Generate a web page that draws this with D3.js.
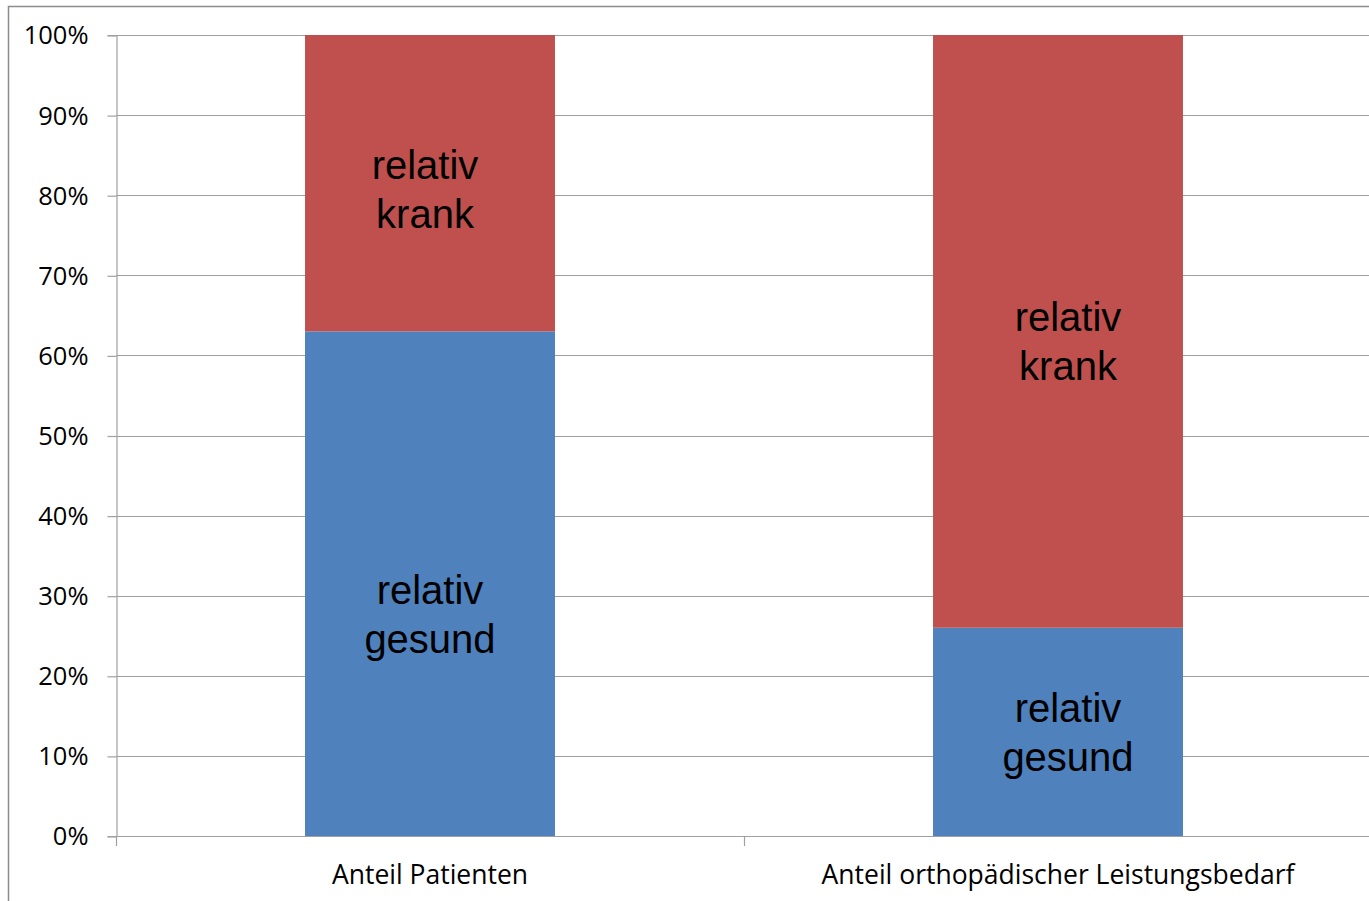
<!DOCTYPE html>
<html>
<head>
<meta charset="utf-8">
<script src="https://cdn.jsdelivr.net/npm/d3@7"></script>
<style>
  html, body { margin: 0; padding: 0; background: #fff; }
  svg { display: block; }
</style>
</head>
<body>
<svg id="chart" width="1369" height="901"></svg>
<script>
// Category names and stacked shares (fractions of 1)
const categories = ["Anteil Patienten", "Anteil orthopädischer Leistungsbedarf"];
const gesund = [0.63, 0.26];
const krank = [0.37, 0.74];
const seriesNames = ["gesund", "krank"];
const seriesLabels = [["relativ", "gesund"], ["relativ", "krank"]];
const yTicks = [0, 0.1, 0.2, 0.3, 0.4, 0.5, 0.6, 0.7, 0.8, 0.9, 1.0];

const colors = { gesund: "#4F81BD", krank: "#C0504D" };

// label nudges inside segments (px), per category then series
const labelShift = {
  gesund: [{ dx: 0, dy: 30 }, { dx: 10, dy: 0 }],
  krank:  [{ dx: -5, dy: 6 }, { dx: 10, dy: 10 }]
};

const svg = d3.select("#chart");
const plot = { left: 116, right: 1372, top: 35, bottom: 836 };
const uiFont = "'Open Sans', Lato, sans-serif";

// outer chart frame
svg.append("rect")
  .attr("x", 8.5).attr("y", 6.5)
  .attr("width", 1400).attr("height", 1000)
  .attr("fill", "none").attr("stroke", "#8c8c8c").attr("stroke-width", 1.5);

const y = d3.scaleLinear().domain([0, 1]).range([plot.bottom, plot.top]);
const x = d3.scaleBand().domain(categories)
  .range([plot.left, plot.right])
  .paddingInner(0.602).paddingOuter(0.301);

// horizontal gridlines
svg.append("g").selectAll("line").data(yTicks).join("line")
  .attr("x1", plot.left).attr("x2", plot.right)
  .attr("y1", d => Math.round(y(d)) + 0.5).attr("y2", d => Math.round(y(d)) + 0.5)
  .attr("stroke", "#a0a0a0").attr("stroke-width", 1.2);

// stacked data
const rows = categories.map((c, i) => ({ category: c, gesund: gesund[i], krank: krank[i] }));
const stack = d3.stack().keys(seriesNames)(rows);

const bars = svg.append("g");
stack.forEach((layer) => {
  bars.append("g").attr("fill", colors[layer.key])
    .selectAll("rect").data(layer).join("rect")
    .attr("x", d => x(d.data.category))
    .attr("width", x.bandwidth())
    .attr("y", d => y(d[1]))
    .attr("height", d => y(d[0]) - y(d[1]));
});

// segment labels
stack.forEach((layer, si) => {
  layer.forEach((d, ci) => {
    const sh = labelShift[layer.key][ci];
    const cx = x(d.data.category) + x.bandwidth() / 2 + sh.dx;
    const cy = (y(d[0]) + y(d[1])) / 2 + sh.dy;
    const t = svg.append("text")
      .attr("x", cx).attr("y", cy)
      .attr("text-anchor", "middle")
      .attr("font-family", "'Liberation Sans', Arial, sans-serif")
      .attr("font-size", 40)
      .attr("fill", "#000");
    seriesLabels[si].forEach((line, li) => {
      t.append("tspan").attr("x", cx).attr("y", cy - 10 + li * 49).text(line);
    });
  });
});

// y axis
const yAxis = d3.axisLeft(y).tickValues(yTicks)
  .tickFormat(d3.format(".0%")).tickSize(9).tickPadding(19);
const gy = svg.append("g").attr("transform", `translate(${plot.left + 0.5},0)`).call(yAxis);
gy.select(".domain").attr("stroke", "#a0a0a0").attr("stroke-width", 1.2);
gy.selectAll(".tick line").attr("stroke", "#a0a0a0").attr("stroke-width", 1.2)
  .attr("transform", "translate(0,0.5)");
gy.selectAll(".tick text")
  .attr("font-family", uiFont)
  .attr("font-size", 25.5).attr("fill", "#000").attr("dy", "0.35em");

// x axis line and category boundary ticks
svg.append("line")
  .attr("x1", plot.left).attr("x2", plot.right)
  .attr("y1", y(0) + 0.5).attr("y2", y(0) + 0.5)
  .attr("stroke", "#a0a0a0").attr("stroke-width", 1.2);
const boundaries = d3.range(categories.length + 1).map(i => plot.left + i * x.step());
svg.append("g").selectAll("line").data(boundaries).join("line")
  .attr("x1", d => d + 0.5).attr("x2", d => d + 0.5)
  .attr("y1", y(0)).attr("y2", y(0) + 10)
  .attr("stroke", "#a0a0a0").attr("stroke-width", 1.2);

// category labels
svg.append("g").selectAll("text").data(categories).join("text")
  .attr("x", d => x(d) + x.bandwidth() / 2)
  .attr("y", 884)
  .attr("text-anchor", "middle")
  .attr("font-family", uiFont)
  .attr("font-size", 26.5).attr("fill", "#000")
  .text(d => d);
</script>
</body>
</html>
